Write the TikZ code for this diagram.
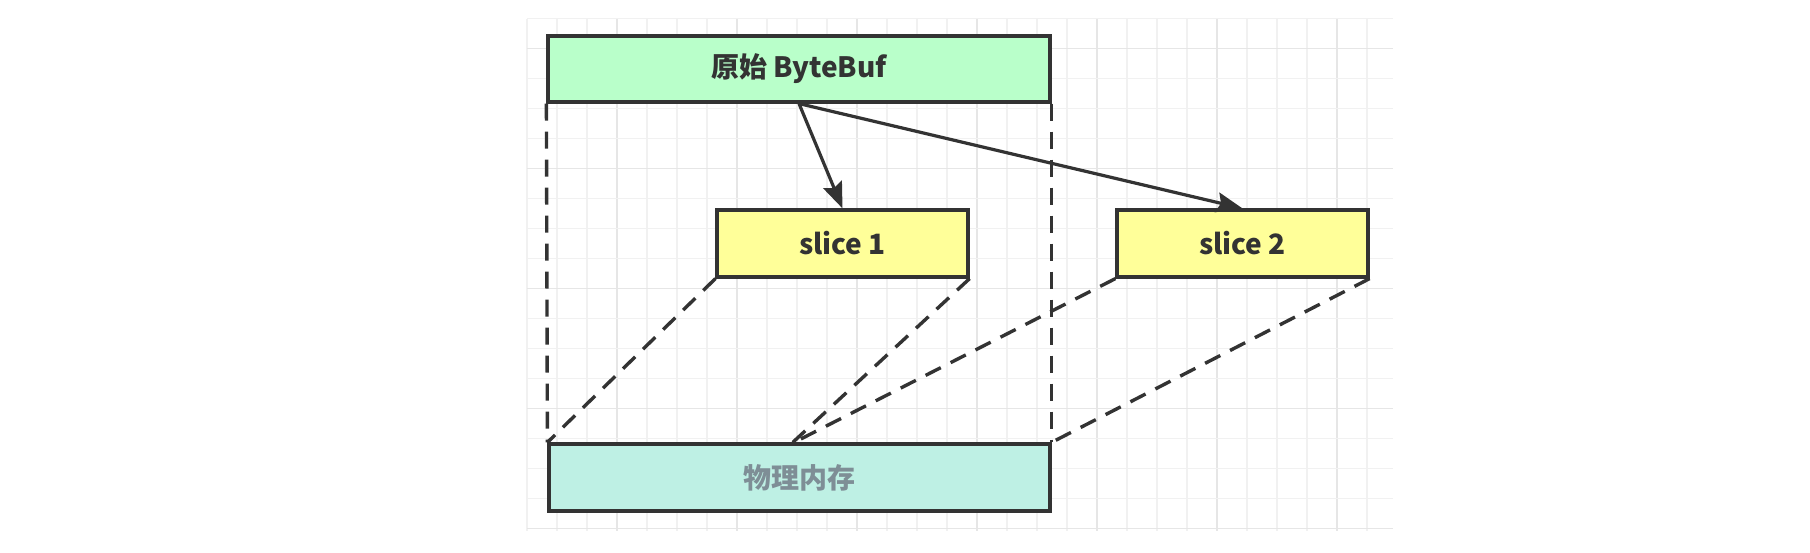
\documentclass[tikz,border=0pt]{standalone}
\usepackage{fontspec}
\newfontfamily\cjk{Noto Sans CJK SC}
\usetikzlibrary{arrows.meta}
\definecolor{stroke}{HTML}{333333}
\definecolor{topfill}{HTML}{B9FFCA}
\definecolor{slicefill}{HTML}{FFFF99}
\definecolor{memfill}{HTML}{BEF0E4}
\definecolor{memtext}{HTML}{7E8E96}
\definecolor{gridminor}{HTML}{F1F1F1}
\definecolor{gridmajor}{HTML}{E6E6E6}
\tikzset{
  box/.style={draw=stroke, line width=1.6pt, rectangle, inner sep=0pt,
    font=\cjk\bfseries\fontsize{14pt}{16pt}\selectfont, text=stroke},
  conn/.style={draw=stroke, line width=1.6pt, -{Stealth[length=13pt,width=10pt,inset=2pt]}},
  link/.style={draw=stroke, line width=1.7pt, dash pattern=on 8.5pt off 5.5pt},
  gminor/.style={draw=gridminor, line width=0.75pt},
  gmajor/.style={draw=gridmajor, line width=0.75pt}
}
\begin{document}
\begin{tikzpicture}[x=0.5pt,y=-0.5pt]
\useasboundingbox[fill=white] (0,0) rectangle (1810,552);
% grid
\foreach \k in {0,...,28}{
  \pgfmathtruncatemacro{\r}{mod(\k,4)}
  \ifnum\r=3
    \draw[gmajor] ({527+30*\k},19) -- ({527+30*\k},531);
  \else
    \draw[gminor] ({527+30*\k},19) -- ({527+30*\k},531);
  \fi
}
\foreach \k in {0,...,17}{
  \pgfmathtruncatemacro{\r}{mod(\k,4)}
  \ifnum\r=1
    \draw[gmajor] (527,{18.5+30*\k}) -- (1393,{18.5+30*\k});
  \else
    \draw[gminor] (527,{18.5+30*\k}) -- (1393,{18.5+30*\k});
  \fi
}
% nodes
\node[box, fill=topfill, minimum width=251pt, minimum height=33pt] (top) at (799,69) {原始 ByteBuf};
\node[box, fill=slicefill, minimum width=125.5pt, minimum height=33.5pt] (s1) at (842.5,243.5) {slice 1};
\node[box, fill=slicefill, minimum width=125.5pt, minimum height=33.5pt] (s2) at (1242.5,243.5) {slice 2};
\node[box, fill=memfill, minimum width=250.5pt, minimum height=33.5pt, text=memtext] (mem) at (799.5,477.5) {物理内存};
\coordinate (m) at (791,444);
% dashed links
\draw[link] (top.south west) -- (mem.north west);
\draw[link] (top.south east) -- (mem.north east);
\draw[link] (s1.south west) -- (mem.north west);
\draw[link] (s1.south east) -- (m);
\draw[link] (s2.south west) -- (m);
\draw[link] (s2.south east) -- (mem.north east);
% arrows
\draw[conn] (top.south) -- (s1.north);
\draw[conn] (top.south) -- (s2.north);
\end{tikzpicture}
\end{document}
